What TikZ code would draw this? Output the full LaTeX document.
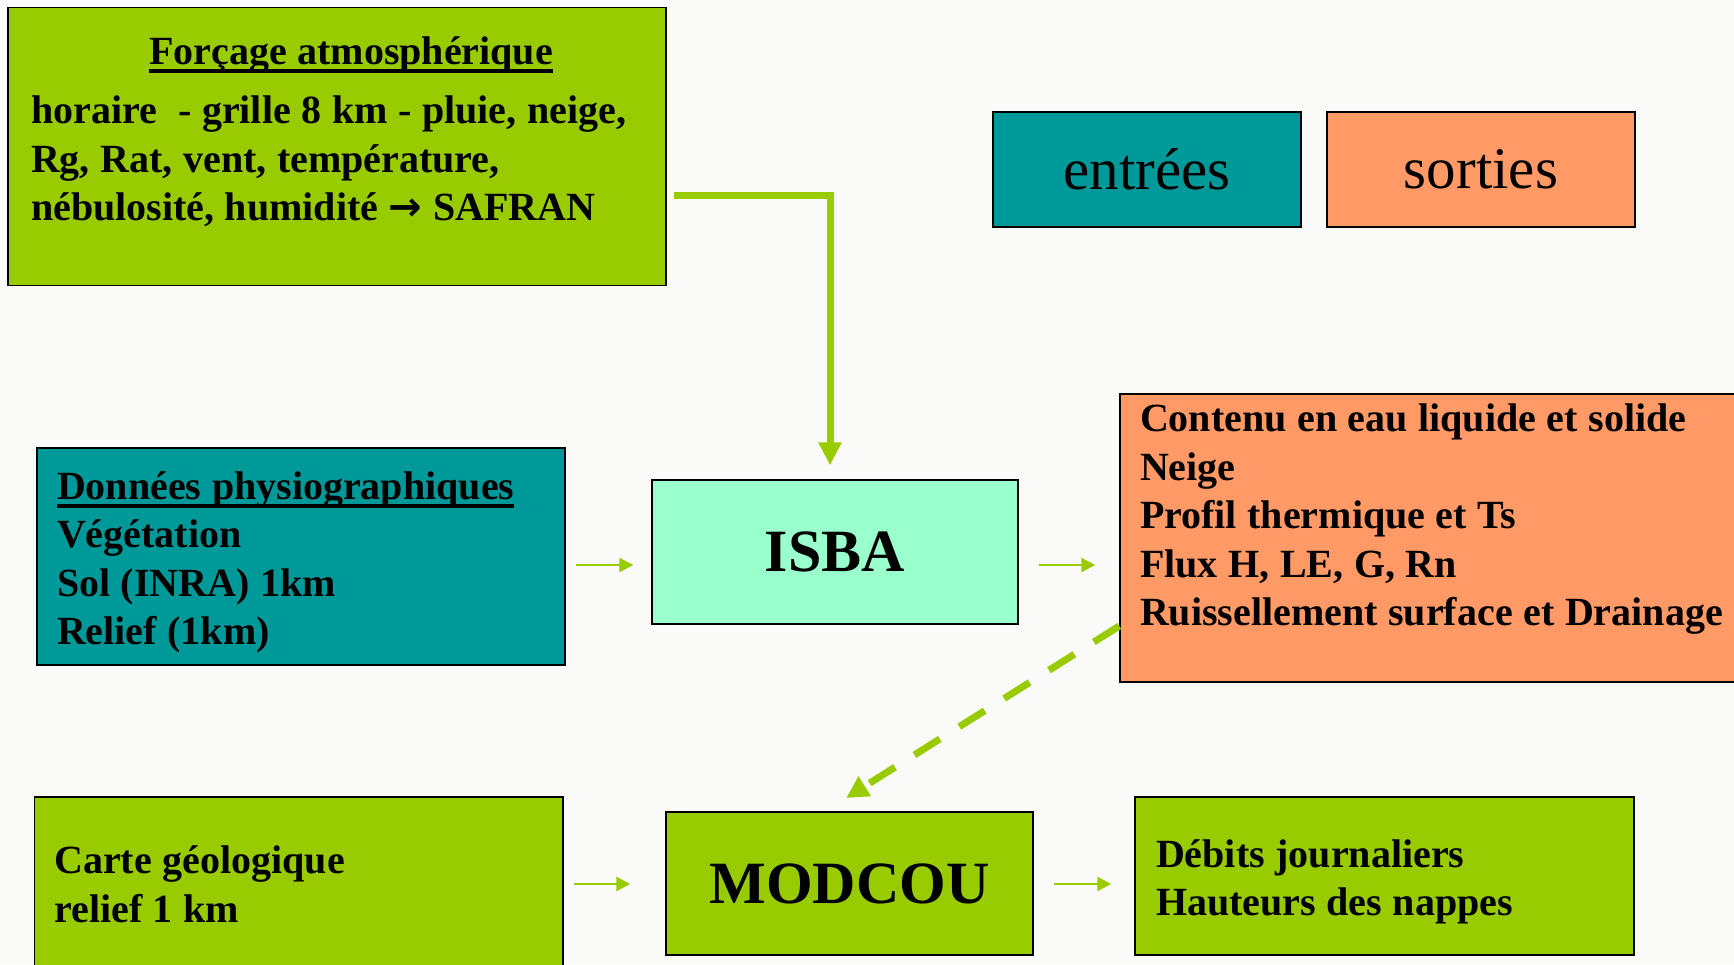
\documentclass[tikz,border=0pt]{standalone}
\usepackage{fontspec}
\setmainfont{Liberation Serif}
\newfontfamily\fleches{DejaVu Sans}
\usepackage{xcolor}
\usepackage{tikz}
\usetikzlibrary{arrows.meta}
\definecolor{vert}{HTML}{99CC00}
\definecolor{bleu}{HTML}{009999}
\definecolor{saumon}{HTML}{FF9966}
\definecolor{menthe}{HTML}{99FFCC}
\definecolor{fond}{HTML}{FAFAF8}
% thick underline for the box titles
\newcommand{\souligne}[1]{\setbox0\hbox{#1}\rlap{\rule[-8pt]{\wd0}{4pt}}#1}
% tighter word spaces
\newcommand{\espaces}{\spaceskip 10.6pt plus 3pt minus 2pt\relax}

\tikzset{
  boite/.style={rectangle,draw=black,line width=1.5pt,inner ysep=0pt},
  texte/.style={font=\bfseries\fontsize{40}{48.5}\selectfont,align=left,execute at begin node=\espaces},
  titre/.style={font=\bfseries\fontsize{60}{72}\selectfont,inner sep=0pt},
  legende/.style={font=\fontsize{59}{70}\selectfont,inner sep=0pt},
  fleche/.style={vert,line width=2.5pt,-{Triangle[length=14pt,width=14pt]}},
  grossefleche/.style={vert,line width=7pt,-{Triangle[length=23pt,width=22pt]}},
}

\begin{document}
\begin{tikzpicture}[x=1pt,y=-1pt]

  \useasboundingbox (0,0) rectangle (1734,964);
  \fill[fond] (0,0) rectangle (1734,964);
  \clip (0,0) rectangle (1734,964);

  % legend
  \node[boite,legende,fill=bleu,minimum width=308pt,minimum height=115pt] at (1147,169.5) (entrees) {entrées};
  \node[boite,legende,fill=saumon,minimum width=308pt,minimum height=115pt] at ([xshift=334pt]entrees) (sorties) {sorties};

  % inputs
  \node[boite,texte,fill=vert,text width=612pt,inner xsep=23pt,minimum height=278pt] at (337,146.5) (forcage)
  {\makebox[\linewidth]{\hspace{28pt}\souligne{Forçage atmosphérique}}\\[10.5pt]
   \mbox{horaire~~- grille 8 km - pluie, neige,}\\
   Rg, Rat, vent, température,\\
   nébulosité, humidité {\fleches\bfseries →} SAFRAN\rule[-35pt]{0pt}{0pt}};
  \node[boite,texte,fill=bleu,text width=488pt,inner xsep=20pt,minimum height=217pt] at (301,556.5) (donnees)
  {\rule{0pt}{40pt}\souligne{Données physiographiques}\\
   Végétation\\
   Sol (INRA) 1km\\
   Relief (1km)};
  \node[boite,texte,fill=vert,text width=488.5pt,inner xsep=20pt,minimum height=175pt] at (298.5,884.5) (carte)
  {Carte géologique\\
   relief 1 km};

  % models
  \node[boite,titre,fill=menthe,minimum width=366pt,minimum height=144pt] at (835,552) (isba) {ISBA};
  \node[boite,titre,fill=vert,minimum width=367pt,minimum height=143pt] at ([xshift=14.5pt,yshift=-331.5pt]isba) (modcou) {MODCOU};

  % outputs
  \node[boite,texte,fill=saumon,text width=600pt,inner xsep=20pt,minimum height=288pt] at (1440,538) (resultats)
  {Contenu en eau liquide et solide\\
   Neige\\
   Profil thermique et Ts\\
   Flux H, LE, G, Rn\\
   Ruissellement surface et Drainage\rule[-46pt]{0pt}{0pt}};
  \node[boite,texte,fill=vert,text width=457pt,inner xsep=21pt,minimum height=158pt] at (1384.5,876) (debits)
  {\rule{0pt}{39pt}Débits journaliers\\
   Hauteurs des nappes};

  \draw[grossefleche,shorten <=7pt,shorten >=14pt] (forcage.east |- 0,195) -| ([xshift=-5pt]isba.north);
  \draw[fleche,shorten <=10pt,shorten >=18pt] (donnees.east |- 0,565) -- (isba.west |- 0,565);
  \draw[fleche,shorten <=20pt,shorten >=24pt] (isba.east |- 0,565) -- (resultats.west |- 0,565);
  \draw[fleche,shorten <=10pt,shorten >=35pt] (carte.east |- 0,884) -- (modcou.west |- 0,884);
  \draw[fleche,shorten <=20pt,shorten >=23pt] (modcou.east |- 0,884) -- (debits.west |- 0,884);
  % coupling
  \draw[vert,line width=7pt,dash pattern=on 30pt off 23pt,-{Triangle[length=22pt,width=22pt]},shorten >=25pt]
    (resultats.west |- 0,626) -- ([xshift=-24.5pt]modcou.north);

\end{tikzpicture}
\end{document}
